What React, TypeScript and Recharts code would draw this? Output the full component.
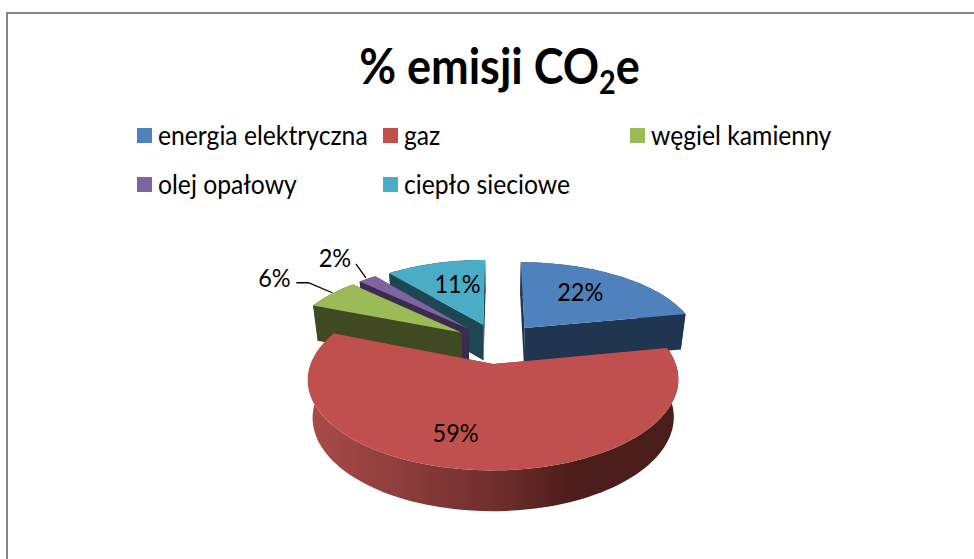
import React from "react";
import { PieChart, Pie, Legend } from "recharts";

const CATEGORIES = ["energia elektryczna", "gaz", "węgiel kamienny", "olej opałowy", "ciepło sieciowe"];
const SHARES = [22, 59, 6, 2, 11];
const TOP_COLORS = ["#4F81BD", "#C0504D", "#9BBB59", "#8064A2", "#4BACC6"];
const SIDE_COLORS = ["#1F3550", "url(#gazSide)", "#3F4A22", "#3A2B4F", "#1E4753"];
// Painter's order: counter-clockwise from the first slice, so the front slice is drawn last.
const DRAW_ORDER = [0, 4, 3, 2, 1];
// Where each percentage sits on its slice: clock angle and radius as a fraction of the pie.
const LABEL_ANGLE = [36, 194, 303, 319.6, 345];
const LABEL_RADIUS = [0.65, 0.7, 1.49, 1.453, 0.63];
const LABEL_SHIFT_X = -2;
const LEADER_LINES: number[][][] = [[], [], [[22, 6], [34, 6], [58, 16]], [[21, 7], [31, 21]], []];

const FONT = "Lato, 'Open Sans', sans-serif";
const PIE = { cx: 497.5, cy: 343, rx: 175, ry: 81, persp: 0.165, explode: 0.25, depth: 36.5, shrink: 0.975 };

const pieData = DRAW_ORDER.map((i) => ({ name: CATEGORIES[i], value: SHARES[i], idx: i, fill: TOP_COLORS[i] }));

type P = [number, number];
const toClock = (a: number) => ((90 - a) * Math.PI) / 180;

function project(u: number, v: number, bottom = false): P {
  const s = 1 / (1 - PIE.persp * v);
  const x = PIE.rx * u * s;
  const y = PIE.ry * v * s;
  if (!bottom) return [PIE.cx + x, PIE.cy + y];
  return [PIE.cx + x * PIE.shrink, PIE.cy + y + PIE.depth * (0.55 + 0.45 * s)];
}

const sliceOffset = (startAngle: number, endAngle: number): P => {
  const mid = toClock((startAngle + endAngle) / 2);
  return [PIE.explode * Math.sin(mid), -PIE.explode * Math.cos(mid)];
};

const pathOf = (pts: P[]) =>
  "M" + pts.map((p) => `${p[0].toFixed(2)},${p[1].toFixed(2)}`).join("L") + "Z";

function Slice3D(props: any) {
  const { startAngle, endAngle, payload } = props;
  const idx = payload.idx ?? props.idx;
  const [ou, ov] = sliceOffset(startAngle, endAngle);
  const steps = Math.max(4, Math.ceil(Math.abs(endAngle - startAngle) / 2));
  const rim: [number, number][] = [];
  for (let k = 0; k <= steps; k++) {
    const t = toClock(startAngle + ((endAngle - startAngle) * k) / steps);
    rim.push([ou + Math.sin(t), ov - Math.cos(t)]);
  }
  const topRim = rim.map(([u, v]) => project(u, v));
  const botRim = rim.map(([u, v]) => project(u, v, true));
  const apexTop = project(ou, ov);
  const apexBot = project(ou, ov, true);
  const side = SIDE_COLORS[idx];
  const flat = idx === 1 ? "#6B2C2A" : side;
  return (
    <g>
      <path d={pathOf([apexTop, topRim[0], botRim[0], apexBot])} fill={flat} />
      <path d={pathOf([apexTop, topRim[steps], botRim[steps], apexBot])} fill={flat} />
      <path d={pathOf([...topRim, ...[...botRim].reverse()])} fill={side} />
      <path d={pathOf([apexTop, ...topRim])} fill={TOP_COLORS[idx]} />
    </g>
  );
}

function SliceLabel(props: any) {
  const { index, payload, startAngle, endAngle } = props;
  const idx = payload?.idx ?? pieData[index].idx;
  const [ou, ov] = sliceOffset(startAngle, endAngle);
  const a = (LABEL_ANGLE[idx] * Math.PI) / 180;
  const r = LABEL_RADIUS[idx];
  const [px, y] = project(ou + r * Math.sin(a), ov - r * Math.cos(a));
  const x = px + LABEL_SHIFT_X;
  const leader = LEADER_LINES[idx];
  return (
    <g>
      {leader.length > 0 && (
        <polyline
          points={leader.map(([dx, dy]) => `${x + dx},${y + dy}`).join(" ")}
          fill="none"
          stroke="#000"
          strokeWidth={1.3}
        />
      )}
      <text
        transform={`translate(${x} ${y}) scale(0.94 1)`}
        textAnchor="middle"
        dominantBaseline="central"
        fontFamily={FONT}
        fontSize={25}
        fill="#000"
      >
        {`${SHARES[idx]}%`}
      </text>
    </g>
  );
}

const LEGEND_COLS = [137, 383, 630];
const LEGEND_ROWS = [128, 177];

function LegendBox() {
  return (
    <div style={{ position: "absolute", left: 0, top: 0, width: 974, height: 220, pointerEvents: "none" }}>
      {CATEGORIES.map((name, i) => (
        <div key={name}>
          <div
            style={{
              position: "absolute",
              left: LEGEND_COLS[i % 3],
              top: LEGEND_ROWS[Math.floor(i / 3)],
              width: 15,
              height: 15,
              background: TOP_COLORS[i],
            }}
          />
          <div
            style={{
              position: "absolute",
              left: LEGEND_COLS[i % 3] + 21,
              top: LEGEND_ROWS[Math.floor(i / 3)] - 8,
              fontFamily: FONT,
              fontSize: 26,
              lineHeight: "30px",
              whiteSpace: "nowrap",
              color: "#000",
              transform: "scaleX(0.95)",
              transformOrigin: "left center",
            }}
          >
            {name}
          </div>
        </div>
      ))}
    </div>
  );
}

export default function App() {
  return (
    <div style={{ position: "absolute", left: 0, top: 0, width: 974, height: 559, overflow: "hidden", background: "#fff" }}>
      <div
        style={{
          position: "absolute",
          left: 6,
          top: 12,
          width: 980,
          height: 560,
          borderLeft: "2px solid #868686",
          borderTop: "2px solid #868686",
        }}
      />
      <PieChart width={974} height={559} style={{ position: "absolute", left: 0, top: 0 }}>
        <defs>
          <linearGradient id="gazSide" gradientUnits="userSpaceOnUse" x1="312" y1="0" x2="672" y2="0">
            <stop offset="0" stopColor="#A84B48" />
            <stop offset="0.3" stopColor="#873A38" />
            <stop offset="0.55" stopColor="#6A2B29" />
            <stop offset="0.72" stopColor="#4C1D1B" />
            <stop offset="1" stopColor="#4A1D1B" />
          </linearGradient>
        </defs>
        <text
          transform="translate(499.5 84) scale(0.9 1)"
          textAnchor="middle"
          fontFamily={FONT}
          fontWeight={700}
          fontSize={50}
          fill="#000"
        >
          % emisji CO
          <tspan fontSize={32} dy={10}>2</tspan>
          <tspan dy={-10}>e</tspan>
        </text>
        <Legend content={LegendBox} wrapperStyle={{ position: "absolute", left: 0, top: 0, width: 974, height: 220 }} />
        <Pie
          data={pieData}
          dataKey="value"
          nameKey="name"
          cx={497.5}
          cy={343}
          outerRadius={175}
          startAngle={10.8}
          endAngle={370.8}
          paddingAngle={0}
          stroke="none"
          isAnimationActive={false}
          shape={Slice3D}
          label={SliceLabel}
          labelLine={false}
        />
      </PieChart>
    </div>
  );
}
